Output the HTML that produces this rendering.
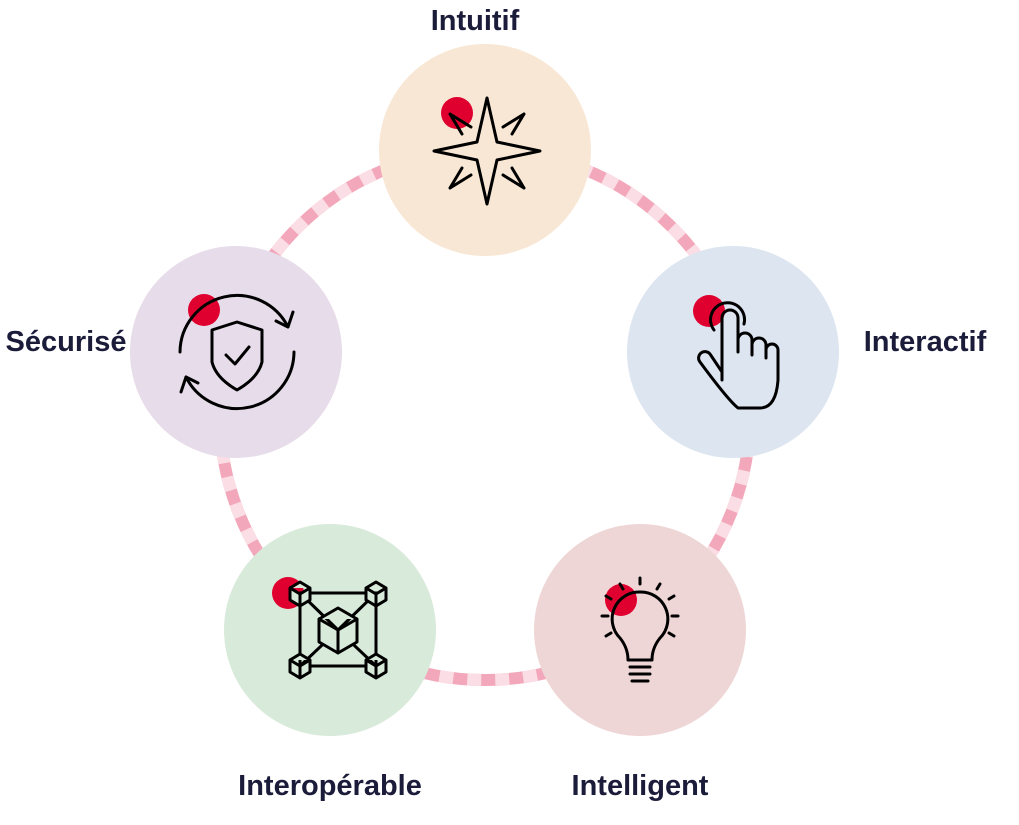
<!DOCTYPE html>
<html><head><meta charset="utf-8"><style>
body{margin:0;background:#fff;width:1019px;height:825px;overflow:hidden}
svg{display:block}
text{font-family:"Liberation Sans",sans-serif;font-weight:bold;font-size:29px;fill:#1b1b3a}
.ic{fill:none;stroke:#000;stroke-width:3;stroke-linecap:round;stroke-linejoin:round}
</style></head><body>
<svg width="1019" height="825" viewBox="0 0 1019 825">
<circle cx="485" cy="415" r="265" fill="none" stroke="#f3a7ba" stroke-width="12"/>
<circle cx="485" cy="415" r="265" fill="none" stroke="#fbdde5" stroke-width="12" stroke-dasharray="14 14"/>
<circle cx="485" cy="150" r="106" fill="#f8e7d4"/>
<circle cx="733" cy="352" r="106" fill="#dce5f0"/>
<circle cx="640" cy="630" r="106" fill="#efd6d6"/>
<circle cx="330" cy="630" r="106" fill="#d8eada"/>
<circle cx="236" cy="352" r="106" fill="#e6dcea"/>
<circle cx="457" cy="113" r="16" fill="#e0002f"/>
<circle cx="709" cy="311" r="16" fill="#e0002f"/>
<circle cx="621" cy="600" r="16" fill="#e0002f"/>
<circle cx="288" cy="593" r="16" fill="#e0002f"/>
<circle cx="204" cy="310" r="16" fill="#e0002f"/>
<path class="ic" d="M487 98 L497 142 L540 151 L497 160 L487 204 L477 160 L434 151 L477 142 Z"/>
<path class="ic" d="M450 114 L471 127 M450 114 L462 134 M524 114 L503 127 M524 114 L512 134 M450 188 L471 175 M450 188 L462 168 M524 188 L503 175 M524 188 L512 168"/>
<path class="ic" d="M722 380 L722 318 a8 8 0 0 1 16 0 L738 352 L738 340 a7 7 0 0 1 14 0 L752 355 L752 345 a7 7 0 0 1 14 0 L766 358 L766 350 a6 6 0 0 1 12 0 L778 380 Q776 408 760 408 L738 408 Q728 400 700 362 a6 6 0 0 1 10 -8 L722 372"/>
<path class="ic" d="M714 330 a17 17 0 1 1 30 -6"/>
<path class="ic" d="M640 592 a27 27 0 0 1 20 46 Q652 648 652 660 L628 660 Q628 648 620 638 a27 27 0 0 1 20 -46 Z M630 667 L650 667 M630 674 L650 674 M632 681 L648 681"/>
<path class="ic" d="M640 578 L640 584 M660 584 L657 589 M674 596 L669 599 M678 616 L672 616 M674 636 L669 633 M620 584 L623 589 M606 596 L611 599 M602 616 L608 616 M606 636 L611 633"/>
<g class="ic">
<rect x="300" y="593" width="76" height="73" fill="none"/>
<path d="M300 593 L338 630 M376 593 L338 630 M300 666 L338 630 M376 666 L338 630"/>
<path d="M338 608 L357 619 L357 642 L338 653 L319 642 L319 619 Z M319 619 L338 630 L357 619 M338 630 L338 653" fill="#d8eada"/>
<path d="M300 582 L310 588 L310 600 L300 606 L290 600 L290 588 Z M290 588 L300 594 L310 588 M300 594 L300 606" fill="#d8eada"/>
<path d="M376 582 L386 588 L386 600 L376 606 L366 600 L366 588 Z M366 588 L376 594 L386 588 M376 594 L376 606" fill="#d8eada"/>
<path d="M300 654 L310 660 L310 672 L300 678 L290 672 L290 660 Z M290 660 L300 666 L310 660 M300 666 L300 678" fill="#d8eada"/>
<path d="M376 654 L386 660 L386 672 L376 678 L366 672 L366 660 Z M366 660 L376 666 L386 660 M376 666 L376 678" fill="#d8eada"/>
</g>
<path class="ic" d="M237 322 L262 330 L262 362 Q258 378 237 390 Q216 378 212 362 L212 330 Z M226 355 L235 364 L249 347"/>
<path class="ic" d="M180 352 a57 57 0 0 1 108 -25 M294 352 a57 57 0 0 1 -108 25 M288 327 L293 312 M288 327 L276 321 M186 377 L181 392 M186 377 L198 383"/>
<text x="475" y="30" text-anchor="middle">Intuitif</text>
<text x="925" y="351" text-anchor="middle">Interactif</text>
<text x="640" y="795" text-anchor="middle">Intelligent</text>
<text x="330" y="795" text-anchor="middle">Interopérable</text>
<text x="66" y="351" text-anchor="middle">Sécurisé</text>
</svg>
</body></html>
